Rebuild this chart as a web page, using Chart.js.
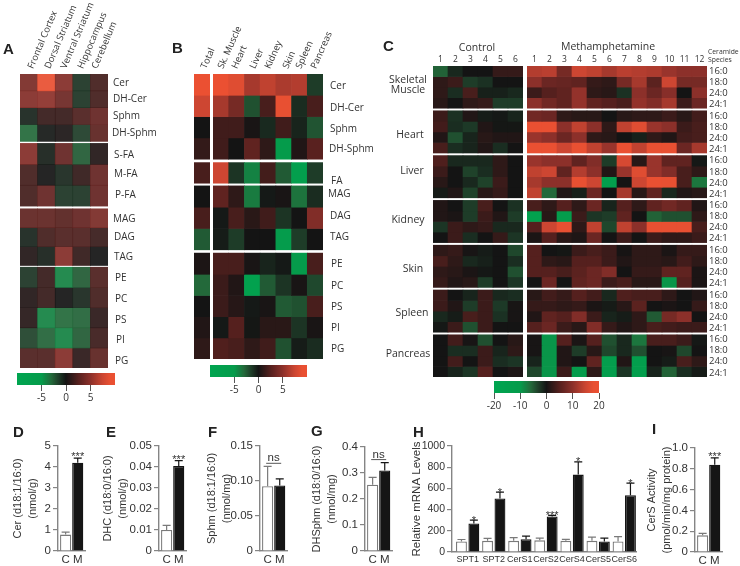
<!DOCTYPE html>
<html>
<head>
<meta charset="utf-8">
<title>Sphingolipid heat maps</title>
<script src="https://cdn.jsdelivr.net/npm/chart.js@4"></script>
<style>
  html, body { margin: 0; padding: 0; background: #fff; }
  #stage { position: relative; width: 740px; height: 566px; overflow: hidden; filter: blur(0.3px); }
  #stage canvas { position: absolute; }
  .txt { position: absolute; white-space: nowrap; line-height: 1; color: #333; font-family: "Open Sans", sans-serif; }
  .letter { font-family: "Liberation Sans", sans-serif; font-weight: bold; color: #222; font-size: 15px; }
</style>
</head>
<body>
<div id="stage"></div>
<script>
// panel A: brain regions
const colsA = ['Frontal Cortex', 'Dorsal Striatum', 'Ventral Striatum', 'Hippocampus', 'Cerebellum'];
const rowsA = ['Cer', 'DH-Cer', 'Sphm', 'DH-Sphm', 'S-FA', 'M-FA', 'P-FA', 'MAG', 'DAG', 'TAG', 'PE', 'PC', 'PS', 'PI', 'PG'];
const valuesA = [
  [4.2, 9, 4.6, -1.2, 1.8],
  [4.6, 5, 3.6, -1.2, 1.8],
  [-0.6, 1.3, 1.3, 2.2, 3.2],
  [-3, -0.2, 0.3, -1.5, 2.8],
  [4.6, -0.4, 3.2, -2.5, 0.5],
  [1.8, 0, -0.7, 1.1, 3.2],
  [1.8, 3.2, -1.2, -1.2, 3.2],
  [3, 3, 2.6, 3.2, 4.2],
  [-0.6, 1.8, 2.2, 2.2, 1.4],
  [0.5, -0.4, 4.6, 1.1, 0],
  [-1.2, 1.3, -4, -2.5, 2.2],
  [0.5, 1.3, 0, -0.7, 1.8],
  [0.7, -4, -3, -2.8, 0.9],
  [-1.7, -2.8, -4, -2.5, 1.5],
  [2.2, 2.2, 4.6, 0.9, 2.8]
];

// panel B: total and peripheral tissues
const colsB = ['Total', 'Sk. Muscle', 'Heart', 'Liver', 'Kidney', 'Skin', 'Spleen', 'Pancreas'];
const rowsB = ['Cer', 'DH-Cer', 'Sphm', 'DH-Sphm', 'FA', 'MAG', 'DAG', 'TAG', 'PE', 'PC', 'PS', 'PI', 'PG'];
const valuesB = [
  [10, 10, 8.5, 6, 7, 6.2, 6.5, -1.5],
  [7.5, 6, 4, -2.2, 2, 9, -0.9, 2],
  [0, 1.7, 1.7, 0.2, -0.8, 1.7, -0.6, -2.3],
  [1.2, 1.7, 0, 3, 1, -5, 0.5, 2.7],
  [2, 7.5, -1.2, -4, 1.8, -2.5, -7, -1.5],
  [0, 3, 1, -3.7, -0.2, 0.2, -3.4, -0.9],
  [2, -0.2, 2, 0.8, 1.7, -1.2, 0, 4.5],
  [-2.5, -0.3, -1.5, 0, 0, -5.5, -1.5, 0],
  [0.3, 2, 2, 0.2, -0.6, -0.2, -5, 2],
  [-3, 1.5, 0.5, -8, -2.5, -1.2, 0.2, -1.9],
  [0, 1.5, 0.7, -0.2, 0.2, -2.5, -2.2, 2],
  [0.5, -0.2, 2.5, -0.1, 0.8, 0.8, -1.2, 0.2],
  [1, 2.3, 2, 1, 1.7, -2.2, -0.3, -0.9]
];

// panel C: ceramide species per tissue, control mice 1-6 and treated mice 1-12
const tissuesC = ['Skeletal Muscle', 'Heart', 'Liver', 'Kidney', 'Skin', 'Spleen', 'Pancreas'];
const speciesC = ['16:0', '18:0', '24:0', '24:1'];
const controlIds = ['1', '2', '3', '4', '5', '6'];
const methIds = ['1', '2', '3', '4', '5', '6', '7', '8', '9', '10', '11', '12'];
const controlC = [
  // skeletal muscle
  [-5.5, -1.5, 0, 0, 2.5, 2.5],
  [2, 3, -3, -2.2, 0, 0],
  [2, -1.9, 4, -0.9, -0.9, -1.5],
  [1.5, 0, 2, 2.5, -3, -3],
  // heart
  [3, -2.2, 1, -0.6, -0.3, -1.2],
  [3.5, -1.9, -2.8, 1, -0.2, -0.2],
  [1, -4.3, -1.2, 1.5, 1, 1],
  [4, -1.9, -1.2, 1, -1.9, 0],
  // liver
  [4.5, -1.5, -1.5, -1.5, 2, 0],
  [3, 0, -3.4, -1.9, 2, 0],
  [1.5, 0, -1.5, -3.4, 3, 0],
  [-0.5, 1, -3.4, 1.5, 2.5, 0],
  // kidney
  [1, 0, -3, 4, 0, -2.2],
  [1, 0.5, -3, 3, 1, -3],
  [-2.5, 3, 2, 2.5, -1.5, -1.5],
  [0, 3, -1.9, 0, 2.5, -2.5],
  // skin
  [2, 2.5, 0.3, -0.6, 0, -3.7],
  [4, 2, -1.5, -0.9, 0, -1.9],
  [2, 1.5, 0.5, -0.3, 0, -4.3],
  [2.5, 1, 1.5, -3, 0, -2.5],
  // spleen
  [3, 0, -1.2, 3, -1.5, -1.9],
  [3, 1, -3, 3, -2.8, 0.3],
  [-1.5, -0.6, 4, 3, -2.2, 0.3],
  [-0.3, 3, -4.3, 3, 0, 0],
  // pancreas
  [0, 3.5, 0.3, -4.3, 0, 1.5],
  [0, -1.9, -1.9, 3, -1.2, 2],
  [0, 3.5, 0, 3, -1.9, -2.5],
  [0, -1.2, -2.5, 5, 0, 0.8]
];
const methC = [
  // skeletal muscle
  [13, 13.5, 8, 15, 14, 12, 13.5, 13, 12.5, 11, 10, 10],
  [10, 7, 6.5, 6, 2.5, 2, 8, 12, 5.5, 15, 8, 8],
  [3, 5, 6, 10.5, 2, 1.5, -2.2, 10, 7, 9.5, 0, 10],
  [10, 7.5, 6, 10.5, 6, 5, 4, 10.5, 9, 12, 3, 7],
  // heart
  [7.5, 7, 2, 1.5, 1.5, 0, 1.5, 2, 2, 3, 1.5, 3.5],
  [19, 19, 10, 14, 10, 2, 14, 17, 11, 10, 3, 4],
  [11, 10, 7, 10, 2, 1.5, 0, -0.9, 2, 1, 3.5, 4],
  [19, 19, 15, 18, 14, 11, 19, 14, 18, 18, 7, 12],
  // liver
  [11, 10, 10, 6, 9, -3, 16, 1.5, 11, 6, 6, -0.3],
  [14, 15, 6, 13, 10, 1, 11, 17, 11, 9, 4, 2],
  [12, 10, 10, 18, 15, -14, 0, 15, 19, 18, 4, -7],
  [14, -6, 1, -0.9, 7, 0, 12, 1.5, 6, -1.5, 1, 1.5],
  // kidney
  [4, 2, 5, 2, 7, -1.2, 5, 2, 6, 7.5, 6, 1],
  [-16, 1.5, -11, 3, -2.5, -3, 6, 0, -5.5, -4.3, -4.3, 2],
  [5, 15, 18, 2, 14, -3.7, 14, 10, 18, 18, 18, 4],
  [0.5, 5, 1.5, 0.8, 7, 0, 3, 0, 3, 2, 2, 3],
  // skin
  [5, 0, -0.2, 3, 4, 3, 0.2, 2, 2, 0.5, 2.5, 2.5],
  [5, 2, 1.5, 5, 5, 3, 1, 2, 2, 1.5, 3.5, 2],
  [5, 5, 4, 5.5, 7, 9, 0, 2.5, 2.5, 6, 6, 0.5],
  [0, 7, 0, 6, 7, 3, 4, 1.5, 1.5, -9.5, 5, 0.5],
  // spleen
  [1.5, 3.5, 2.5, 5, 3.5, -1.5, 4.5, 4, 4, 2, 0, 1],
  [2.5, 2.5, 2, 2.5, 0.5, -0.5, 1.5, 5.5, 0, 0.5, 0, 2.5],
  [1, 6, 5, 9, 3, -1.2, -0.6, 2, -5, 8, 10, 0],
  [5, 7, 3, 1.5, 9, 2.5, 1, 2, 4, 3.5, 3, 3],
  // pancreas
  [0.3, -9.5, 5, 0.5, 5, -4.3, -1.5, -7, 4, 4, 3, -0.3],
  [0.3, -9.5, 1, -3, 1.5, -3.7, -1.5, -4.3, 0, 0.3, -3.7, 0],
  [-1.2, -9.5, 1, 0, 6, -13, 1, -14, 0, -0.6, 4, 2],
  [-3.7, -9.5, 3, -11, 2, -13, -2.5, -14, -1.2, -5.5, -1.9, -0.5]
];

// colour bars
const barTicksAB = [-5, 0, 5];
const barTicksC = [-20, -10, 0, 10, 20];

// panels D-G and I: control vs methamphetamine
const groupsCM = ['C', 'M'];
const cerValues = [0.78, 4.2];
const cerErrors = [0.9, 4.42];
const cerTicks = ['0', '1', '2', '3', '4', '5'];
const dhcValues = [0.0100, 0.0405];
const dhcErrors = [0.0122, 0.043];
const dhcTicks = ['0', '0.01', '0.02', '0.03', '0.04', '0.05'];
const sphmValues = [0.0925, 0.0935];
const sphmErrors = [0.121, 0.103];
const sphmTicks = ['0', '0.05', '0.10', '0.15'];
const dhsphmValues = [0.255, 0.31];
const dhsphmErrors = [0.283, 0.34];
const dhsphmTicks = ['0', '0.1', '0.2', '0.3', '0.4'];
const cersValues = [0.16, 0.84];
const cersErrors = [0.18, 0.905];
const cersTicks = ['0', '0.2', '0.4', '0.6', '0.8', '1.0'];

// panel H: mRNA levels
const genes = ['SPT1', 'SPT2', 'CerS1', 'CerS2', 'CerS4', 'CerS5', 'CerS6'];
const mrnaControl = [100, 105, 105, 110, 105, 105, 100];
const mrnaControlErr = [118, 128, 135, 130, 120, 140, 145];
const mrnaMeth = [270, 505, 120, 335, 730, 100, 535];
const mrnaMethErr = [300, 565, 150, 345, 850, 130, 650];
const mrnaSig = ['*', '*', '', '***', '*', '', '*'];
const mrnaTicks = ['0', '200', '400', '600', '800', '1000'];

Chart.defaults.animation = false;
Chart.defaults.responsive = false;
Chart.defaults.plugins.legend.display = false;
Chart.defaults.plugins.tooltip.enabled = false;

const stage = document.getElementById('stage');
const SANS = '"Liberation Sans", sans-serif';
const OPEN = '"Open Sans", sans-serif';
const INK = '#333';
const AXIS = '#858585';

const greenStops = [[0, 20, 20, 20], [0.15, 30, 60, 40], [0.3, 35, 105, 58], [0.5, 5, 155, 75], [1, 0, 165, 80]];
const redStops = [[0, 20, 20, 20], [0.25, 85, 32, 30], [0.5, 140, 48, 42], [0.75, 205, 70, 50], [0.9, 232, 80, 50], [1, 235, 80, 50]];

function heatColor(v, max, alpha) {
  const t = Math.min(Math.abs(v) / max, 1);
  const stops = v < 0 ? greenStops : redStops;
  let i = 0;
  while (i < stops.length - 2 && t > stops[i + 1][0]) i++;
  const a = stops[i], b = stops[i + 1];
  const f = (t - a[0]) / (b[0] - a[0]);
  const c = [1, 2, 3].map(k => Math.round(a[k] + (b[k] - a[k]) * f));
  return `rgba(${c[0]},${c[1]},${c[2]},${alpha})`;
}

function addCanvas(left, top, width, height) {
  const c = document.createElement('canvas');
  c.width = width;
  c.height = height;
  c.style.left = left + 'px';
  c.style.top = top + 'px';
  stage.appendChild(c);
  return c;
}

// x,y is the left-middle of the text, or its middle when opts.center is set
function addText(text, x, y, opts = {}) {
  const el = document.createElement('div');
  el.className = 'txt ' + (opts.cls || '');
  el.textContent = text;
  el.style.left = x + 'px';
  el.style.top = y + 'px';
  if (opts.size) el.style.fontSize = opts.size + 'px';
  if (opts.rotate) {
    el.style.transformOrigin = '0 50%';
    el.style.transform = `translateY(-50%) rotate(${opts.rotate}deg)`;
  } else {
    el.style.transform = opts.center ? 'translate(-50%,-50%)' : 'translateY(-50%)';
  }
  stage.appendChild(el);
}

// one bar per cell; layout is a list of [rowCount, rowHeight, gapAfter] blocks
function heatmap(cfg) {
  const axisH = cfg.numbers ? 14 : 0;
  const canvas = addCanvas(cfg.x, cfg.y - axisH, cfg.w, cfg.h + axisH);
  const edges = [];
  let pos = 0;
  cfg.layout.forEach(([count, size, gap]) => {
    for (let i = 0; i < count; i++) {
      edges.push([pos, pos + size]);
      pos += size;
    }
    pos += gap;
  });
  const datasets = cfg.values.map((row, r) => ({
    data: row.map(() => edges[r]),
    backgroundColor: row.map(v => heatColor(v, cfg.max, cfg.alpha || 1)),
    borderWidth: 0,
    grouped: false,
    barPercentage: 1,
    categoryPercentage: 1
  }));
  new Chart(canvas, {
    type: 'bar',
    data: { labels: cfg.cols, datasets },
    options: {
      layout: { padding: 0 },
      scales: {
        x: {
          display: !!cfg.numbers,
          position: 'top',
          grid: { display: false, drawTicks: false },
          border: { color: '#aaa', width: 1 },
          ticks: { color: INK, font: { family: OPEN, size: 8.5 }, padding: 1, autoSkip: false, maxRotation: 0 },
          afterFit(s) { s.height = axisH; s.paddingLeft = 0; s.paddingRight = 0; }
        },
        y: { display: false, reverse: true, min: 0, max: cfg.h }
      }
    }
  });
}

function colorBar(cfg) {
  const pad = 14;
  const canvas = addCanvas(cfg.x - pad, cfg.y, cfg.w + pad * 2, cfg.h + 22);
  new Chart(canvas, {
    type: 'bar',
    data: {
      labels: [''],
      datasets: [{
        data: [[-cfg.max, cfg.max]],
        barPercentage: 1,
        categoryPercentage: 1,
        borderWidth: 0,
        backgroundColor(ctx) {
          const area = ctx.chart.chartArea;
          if (!area) return '#000';
          const g = ctx.chart.ctx.createLinearGradient(area.left, 0, area.right, 0);
          for (let i = 0; i <= 60; i++) {
            g.addColorStop(i / 60, heatColor((i / 30 - 1) * cfg.max, cfg.max, 1));
          }
          return g;
        }
      }]
    },
    options: {
      indexAxis: 'y',
      layout: { padding: { left: pad, right: pad } },
      scales: {
        y: { display: false },
        x: {
          min: -cfg.max,
          max: cfg.max,
          grid: { drawOnChartArea: false, color: '#555', tickLength: 6, lineWidth: 1 },
          border: { display: false },
          ticks: { color: INK, font: { family: OPEN, size: 10 }, padding: 1, autoSkip: false, maxRotation: 0 },
          afterBuildTicks(s) { s.ticks = cfg.ticks.map(v => ({ value: v })); },
          afterFit(s) { s.height = 22; s.paddingLeft = 0; s.paddingRight = 0; }
        }
      }
    }
  });
}

// whiskers and significance marks on top of the bars
function barMarks(errs, sig, starDrop) {
  return {
    id: 'barMarks',
    afterDatasetsDraw(chart) {
      const { ctx, scales: { y } } = chart;
      ctx.save();
      let lastBars = null;
      let top = Infinity;
      chart.data.datasets.forEach((ds, d) => {
        const bars = chart.getDatasetMeta(d).data;
        lastBars = bars;
        bars.forEach((bar, i) => {
          const py = y.getPixelForValue(errs[d][i]);
          top = Math.min(top, py);
          ctx.strokeStyle = bar.options.borderColor;
          ctx.lineWidth = 1.2;
          ctx.beginPath();
          ctx.moveTo(bar.x, bar.y);
          ctx.lineTo(bar.x, py);
          ctx.moveTo(bar.x - 4, py);
          ctx.lineTo(bar.x + 4, py);
          ctx.stroke();
        });
      });
      ctx.fillStyle = INK;
      ctx.textAlign = 'center';
      if (sig === 'ns') {
        const bars = chart.getDatasetMeta(0).data;
        const mid = (bars[0].x + bars[1].x) / 2;
        ctx.strokeStyle = '#555';
        ctx.lineWidth = 1;
        ctx.beginPath();
        ctx.moveTo(mid - 7.5, top - 3);
        ctx.lineTo(mid + 7.5, top - 3);
        ctx.stroke();
        ctx.font = '11.5px ' + SANS;
        ctx.fillText('ns', mid, top - 5);
      } else {
        ctx.font = '11px ' + SANS;
        const last = chart.data.datasets.length - 1;
        lastBars.forEach((bar, i) => {
          if (!sig[i]) return;
          ctx.fillText(sig[i], bar.x, y.getPixelForValue(errs[last][i]) + starDrop);
        });
      }
      ctx.restore();
    }
  };
}

// cfg.left is the canvas edge (start of the axis title), cfg.axisX the y axis line
function barPanel(cfg) {
  const top = 436, plotTop = cfg.plotTop || 446, plotBottom = cfg.plotBottom || 551;
  const width = cfg.axisX - cfg.left + cfg.plotW + 6;
  const canvas = addCanvas(cfg.left, top, width, 566 - top);
  const max = +cfg.ticks[cfg.ticks.length - 1];
  new Chart(canvas, {
    type: 'bar',
    data: { datasets: cfg.datasets },
    options: {
      parsing: false,
      layout: { padding: { top: plotTop - top, bottom: 0, left: 0, right: 6 } },
      scales: {
        x: {
          type: 'linear',
          offset: false,
          min: cfg.xMin,
          max: cfg.xMax,
          grid: { display: false, drawTicks: false },
          border: { color: AXIS, width: 1.4 },
          ticks: {
            color: INK,
            font: { family: SANS, size: cfg.xFont || 11.5 },
            padding: 2,
            autoSkip: false,
            maxRotation: 0,
            callback: v => cfg.labels[v]
          },
          afterBuildTicks(s) { s.ticks = cfg.labels.map((l, i) => ({ value: i })); },
          afterFit(s) { s.height = 566 - plotBottom; s.paddingLeft = 0; s.paddingRight = 0; }
        },
        y: {
          min: 0,
          max,
          grid: { drawOnChartArea: false, color: AXIS, tickLength: 5, lineWidth: 1.2 },
          border: { color: AXIS, width: 1.4 },
          title: {
            display: true,
            text: cfg.title,
            color: INK,
            font: { family: SANS, size: cfg.titleFont || 11, lineHeight: 1.4 },
            padding: { top: 0, bottom: 0 }
          },
          ticks: {
            color: INK,
            font: { family: SANS, size: cfg.yFont || 11.5 },
            padding: 2,
            autoSkip: false,
            callback: v => cfg.ticks.find(t => +t === v)
          },
          afterBuildTicks(s) { s.ticks = cfg.ticks.map(t => ({ value: +t })); },
          afterFit(s) { s.width = cfg.axisX - cfg.left; s.paddingTop = 0; s.paddingBottom = 0; }
        }
      }
    },
    plugins: [barMarks(cfg.errs, cfg.sig, cfg.starDrop)]
  });
}

function pairPanel(cfg) {
  barPanel(Object.assign({
    labels: groupsCM,
    datasets: [{
      data: cfg.values.map((v, i) => ({ x: i, y: v })),
      backgroundColor: ['#fff', '#151515'],
      borderColor: ['#7a7a7a', '#151515'],
      borderWidth: 1.3,
      barPercentage: 0.92,
      categoryPercentage: 1
    }],
    errs: [cfg.errors],
    starDrop: 2,
    plotW: 27,
    xMin: -0.63,
    xMax: 1.6
  }, cfg));
}

// ---- heat maps ----
const layoutA = [[4, 16.85, 2], [3, 20.9, 2.7], [3, 18.9, 1.7], [5, 20.2, 0]];
heatmap({ x: 20, y: 74, w: 88, h: 294, cols: colsA, values: valuesA, max: 10, alpha: 0.93, layout: layoutA });

const layoutB = [[4, 21.3, 3.4], [1, 20.6, 2.7], [3, 21.3, 3.3], [5, 21.2, 0]];
heatmap({ x: 194, y: 74, w: 16, h: 285, cols: colsB.slice(0, 1), values: valuesB.map(r => r.slice(0, 1)), max: 10, layout: layoutB });
heatmap({ x: 213, y: 74, w: 110, h: 285, cols: colsB.slice(1), values: valuesB.map(r => r.slice(1)), max: 10, layout: layoutB });

const layoutC = tissuesC.map((t, i) => [speciesC.length, 10.55, i < tissuesC.length - 1 ? 2.6 : 0]);
heatmap({ x: 433, y: 66, w: 90, h: 311, cols: controlIds, values: controlC, max: 20, layout: layoutC, numbers: true });
heatmap({ x: 527, y: 66, w: 180, h: 311, cols: methIds, values: methC, max: 20, layout: layoutC, numbers: true });

colorBar({ x: 17, y: 373, w: 98, h: 12, max: 10, ticks: barTicksAB });
colorBar({ x: 210, y: 365, w: 97, h: 12, max: 10, ticks: barTicksAB });
colorBar({ x: 494, y: 381, w: 105, h: 12, max: 20, ticks: barTicksC });

// ---- bar panels ----
pairPanel({ left: 10, axisX: 58, title: ['Cer (d18:1/16:0)', '(nmol/g)'], values: cerValues, errors: cerErrors, ticks: cerTicks, sig: ['', '***'] });
pairPanel({ left: 100, axisX: 159, title: ['DHC (d18:0/16:0)', '(nmol/g)'], values: dhcValues, errors: dhcErrors, ticks: dhcTicks, sig: ['', '***'] });
pairPanel({ left: 204, axisX: 260, title: ['Sphm (d18:1/16:0)', '(nmol/mg)'], values: sphmValues, errors: sphmErrors, ticks: sphmTicks, sig: 'ns' });
pairPanel({ left: 309, axisX: 365, title: ['DHSphm (d18:0/16:0)', '(nmol/mg)'], values: dhsphmValues, errors: dhsphmErrors, ticks: dhsphmTicks, sig: 'ns', plotTop: 447 });
pairPanel({ left: 644, axisX: 695, title: ['CerS Activity', '(pmol/min/mg protein)'], values: cersValues, errors: cersErrors, ticks: cersTicks, sig: ['', '***'], plotTop: 448, plotBottom: 552 });

barPanel({
  left: 409,
  axisX: 452,
  plotW: 184,
  xMin: -0.6,
  xMax: 6.45,
  plotBottom: 552,
  labels: genes,
  xFont: 9,
  yFont: 10.5,
  title: 'Relative mRNA Levels',
  titleFont: 11.5,
  ticks: mrnaTicks,
  errs: [mrnaControlErr, mrnaMethErr],
  sig: mrnaSig,
  starDrop: 3.5,
  datasets: [
    {
      data: mrnaControl.map((v, i) => ({ x: i, y: v })),
      backgroundColor: '#fff',
      borderColor: '#7a7a7a',
      borderWidth: 1.3,
      barPercentage: 0.88,
      categoryPercentage: 0.95
    },
    {
      data: mrnaMeth.map((v, i) => ({ x: i, y: v })),
      backgroundColor: '#151515',
      borderColor: '#151515',
      borderWidth: 1.3,
      barPercentage: 0.88,
      categoryPercentage: 0.95
    }
  ]
});

// ---- text around the heat maps ----
[['A', 3, 48], ['B', 172, 47], ['C', 383, 45], ['D', 13, 431], ['E', 106, 431], ['F', 208, 431], ['G', 311, 430], ['H', 413, 431], ['I', 652, 428]]
  .forEach(([t, x, y]) => addText(t, x, y, { cls: 'letter' }));

const colLabelXA = [30, 47, 63, 80, 94];
colsA.forEach((t, i) => addText(t, colLabelXA[i], 68, { rotate: -67, size: 9.3 }));
const rowLabelPosA = [[113, 82], [113, 98], [113, 115], [112, 132], [114, 154], [114, 173], [115, 194], [113, 218], [114, 236], [114, 256], [115, 277], [115, 298], [115, 319], [116, 339], [115, 360]];
rowsA.forEach((t, i) => addText(t, rowLabelPosA[i][0], rowLabelPosA[i][1], { size: 10 }));

const colLabelXB = [203, 220, 234, 252, 267, 285, 298, 313];
colsB.forEach((t, i) => addText(t, colLabelXB[i], 68, { rotate: -66, size: 9.3 }));
const rowLabelPosB = [[330, 85], [330, 107], [330, 128], [329, 148], [331, 180], [328, 193], [330, 215], [330, 236], [331, 263], [331, 285], [331, 306], [331, 327], [331, 348]];
rowsB.forEach((t, i) => addText(t, rowLabelPosB[i][0], rowLabelPosB[i][1], { size: 10 }));

addText('Control', 477, 47, { center: true, size: 10.5 });
addText('Methamphetamine', 608, 46, { center: true, size: 10.5 });
addText('Ceramide', 708, 52, { size: 6.8 });
addText('Species', 708, 60, { size: 6.8 });

const tissueLabelPos = [[408, 79], [410, 134], [412, 170], [408, 219], [413, 268], [412, 312], [408, 353]];
tissuesC.forEach((t, i) => {
  if (t === 'Skeletal Muscle') {
    addText('Skeletal', tissueLabelPos[i][0], tissueLabelPos[i][1], { center: true, size: 10.5 });
    addText('Muscle', tissueLabelPos[i][0], tissueLabelPos[i][1] + 10, { center: true, size: 10.5 });
  } else {
    addText(t, tissueLabelPos[i][0], tissueLabelPos[i][1], { center: true, size: 10.5 });
  }
  speciesC.forEach((s, j) => addText(s, 709, 71 + i * 44.7 + j * 11.1, { size: 9.5 }));
});
</script>
</body>
</html>
